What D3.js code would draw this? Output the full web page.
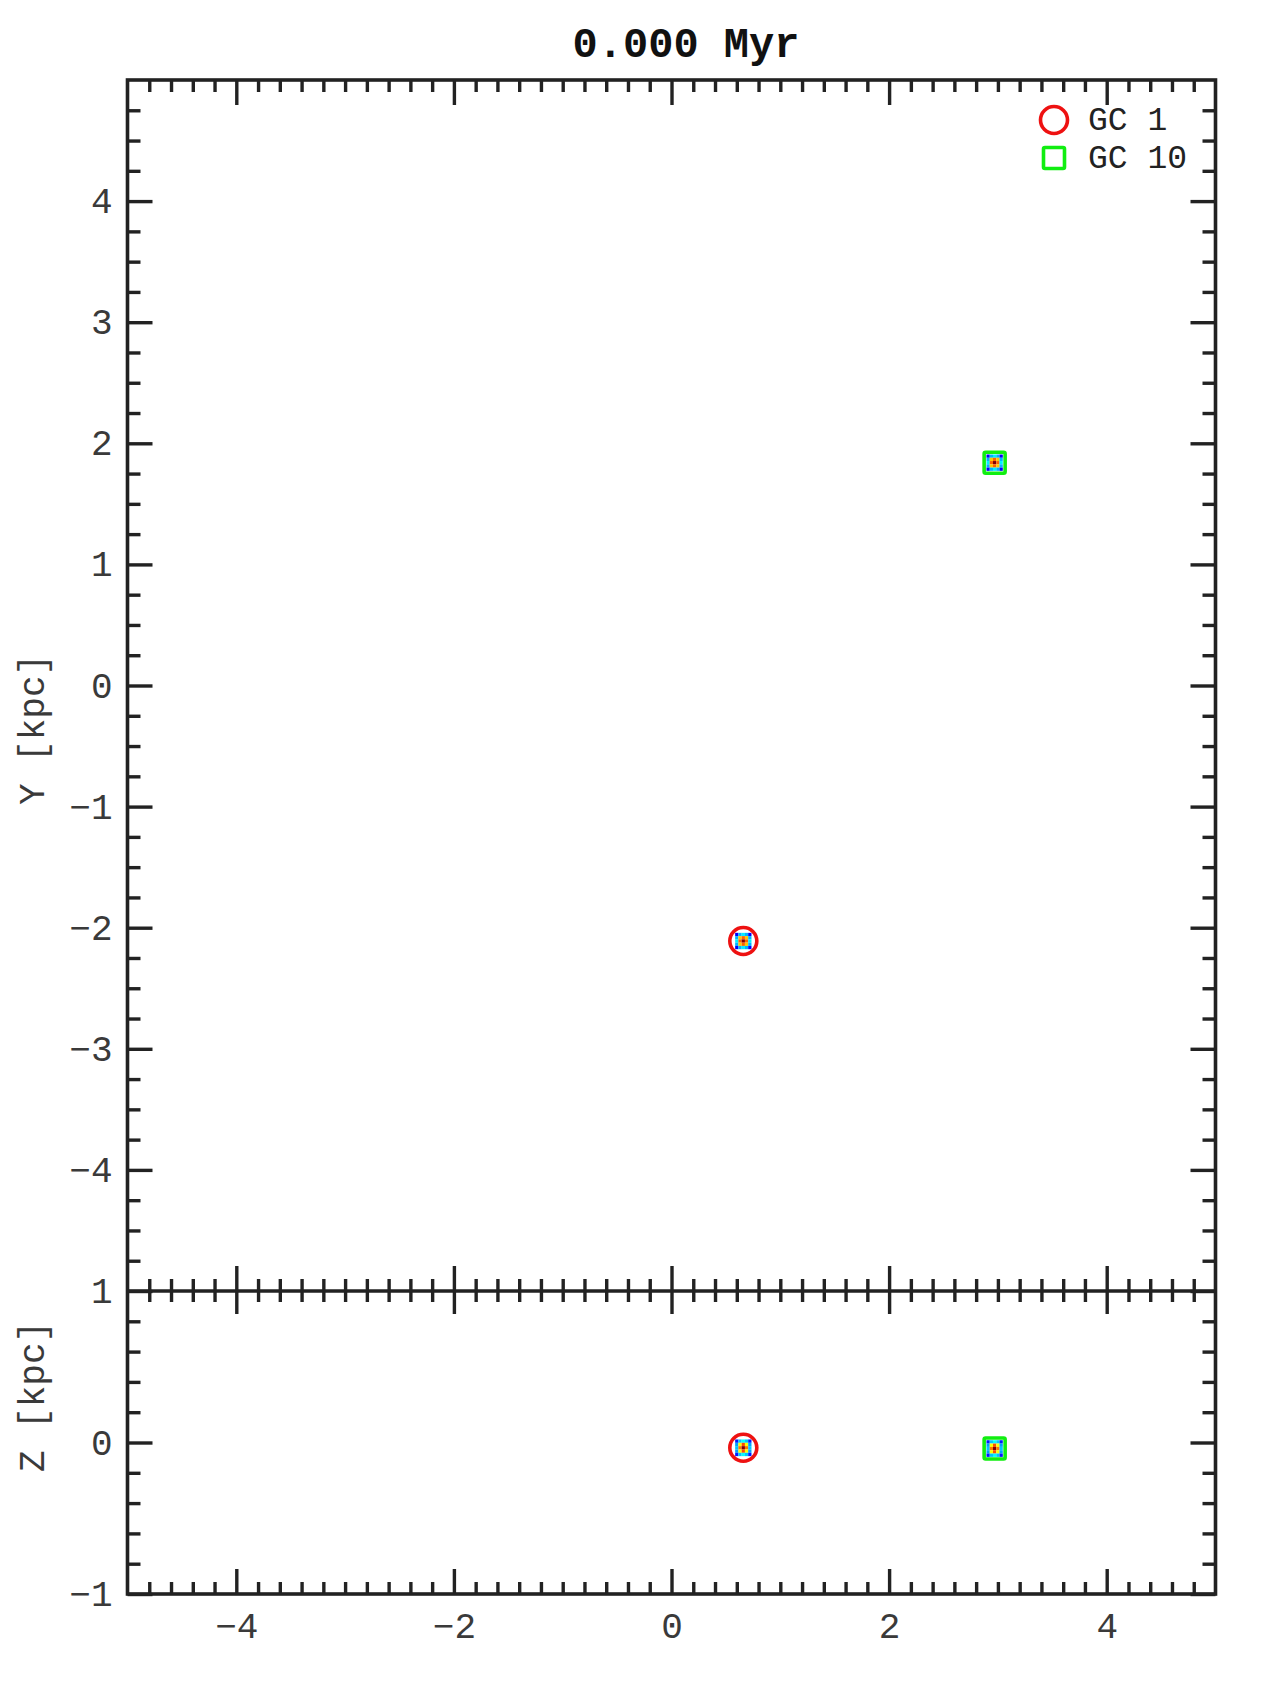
<!DOCTYPE html>
<html><head><meta charset="utf-8">
<script src="https://cdn.jsdelivr.net/npm/d3@7"></script>
<style>body{margin:0;background:#fff}</style>
</head><body>
<script>
// ---- data ----
const title = "0.000 Myr";
const clusterNames = ["GC 1", "GC 10"];
const clusterX = [0.66, 2.97];
const clusterY = [-2.11, 1.84];
const clusterZ = [-0.035, -0.04];
const xTicks = [-4, -2, 0, 2, 4];
const yTicks = [-4, -3, -2, -1, 0, 1, 2, 3, 4];
const zTicks = [-1, 0, 1];
// relative stellar surface density of each cluster on a 5x5 grid (top: x-y, bottom: x-z)
const densityXY = [
  [0.12, 0.30, 0.36, 0.30, 0.12],
  [0.30, 0.68, 0.78, 0.68, 0.30],
  [0.36, 0.78, 1.00, 0.78, 0.36],
  [0.30, 0.68, 0.78, 0.68, 0.30],
  [0.12, 0.30, 0.36, 0.30, 0.12]
];
const densityXZ = [
  [0.15, 0.32, 0.38, 0.32, 0.15],
  [0.28, 0.62, 0.80, 0.62, 0.28],
  [0.32, 0.76, 1.00, 0.76, 0.32],
  [0.28, 0.62, 0.80, 0.62, 0.28],
  [0.15, 0.32, 0.38, 0.32, 0.15]
];
const cellX = 0.03, cellY = 0.027, cellZ = 0.022;

// ---- layout ----
const W = 1280, H = 1706;
const L = 127.5, R = 1215.5, T = 80, M = 1291, B = 1594;
const ink = "#222";
const font = "'Liberation Mono','Courier New',monospace";
const markerColor = ["#ee1111", "#11ee11"];
const markerShape = ["circle", "square"];

const svg = d3.select("body").append("svg").attr("width", W).attr("height", H)
  .style("background", "#fff");

const x = d3.scaleLinear([-5, 5], [L, R]);
const y = d3.scaleLinear([-5, 5], [M, T]);
const z = d3.scaleLinear([-1, 1], [B, M]);

const jet = d3.scaleLinear()
  .domain([0, 0.125, 0.375, 0.625, 0.875, 1])
  .range(["#00008f", "#0000ff", "#00ffff", "#ffff00", "#ff0000", "#800000"])
  .clamp(true);

// density maps
function drawDensity(g, cx, cy, grid, sx, sy, dx, dy) {
  const n = grid.length, h = (n - 1) / 2;
  grid.forEach((row, j) => row.forEach((v, i) => {
    const x0 = sx(cx + (i - h - 0.5) * dx), x1 = sx(cx + (i - h + 0.5) * dx);
    const y0 = sy(cy + (h - j + 0.5) * dy), y1 = sy(cy + (h - j - 0.5) * dy);
    g.append("rect").attr("x", x0).attr("y", y0)
      .attr("width", x1 - x0).attr("height", y1 - y0)
      .attr("fill", jet(v));
  }));
}
function drawMarker(g, px, py, k) {
  if (markerShape[k] === "circle") {
    g.append("circle").attr("cx", px).attr("cy", py).attr("r", 13.5)
      .attr("fill", "none").attr("stroke", markerColor[k]).attr("stroke-width", 3.6);
  } else {
    g.append("rect").attr("x", px - 10.5).attr("y", py - 10.5).attr("width", 21).attr("height", 21)
      .attr("rx", 1.5).attr("fill", "none").attr("stroke", markerColor[k]).attr("stroke-width", 3.6);
  }
}
const gData = svg.append("g");
clusterNames.forEach((nm, k) => {
  drawDensity(gData, clusterX[k], clusterY[k], densityXY, x, y, cellX, cellY);
  drawMarker(gData, x(clusterX[k]), y(clusterY[k]), k);
  drawDensity(gData, clusterX[k], clusterZ[k], densityXZ, x, z, cellX, cellZ);
  drawMarker(gData, x(clusterX[k]), z(clusterZ[k]), k);
});

// ---- axes ----
const fmt = d3.format("d");
function tickAxis(axisFn, scale, vals, size, tx, ty, labels, pad) {
  const a = axisFn(scale).tickValues(vals).tickSize(size)
    .tickPadding(pad || 0).tickFormat(labels ? fmt : "");
  const g = svg.append("g").attr("transform", `translate(${tx},${ty})`).call(a);
  g.select(".domain").remove();
  g.selectAll(".tick line").attr("stroke", ink).attr("stroke-width", 3.4);
  g.selectAll(".tick text").attr("font-family", font).attr("font-size", 36)
    .attr("fill", "#3a3a3a");
  return g;
}
const xMinor = d3.range(-4.8, 5, 0.2).map(v => +v.toFixed(1)).filter(v => !xTicks.includes(v));
const yMinor = d3.range(-4.75, 5, 0.25).map(v => +v.toFixed(2)).filter(v => !Number.isInteger(v));
const zMinor = d3.range(-0.8, 1, 0.2).map(v => +v.toFixed(1)).filter(v => !Number.isInteger(v));
// top panel: left / right
tickAxis(d3.axisLeft, y, yTicks, -25, L, 0, true, 15);
tickAxis(d3.axisLeft, y, yMinor, -13, L, 0, false);
tickAxis(d3.axisRight, y, yTicks, -25, R, 0, false);
tickAxis(d3.axisRight, y, yMinor, -13, R, 0, false);
// bottom panel: left / right
tickAxis(d3.axisLeft, z, zTicks, -25, L, 0, true, 15);
tickAxis(d3.axisLeft, z, zMinor, -13, L, 0, false);
tickAxis(d3.axisRight, z, zTicks, -25, R, 0, false);
tickAxis(d3.axisRight, z, zMinor, -13, R, 0, false);
// top edge (ticks pointing down, inward)
tickAxis(d3.axisBottom, x, xTicks, 25, 0, T, false);
tickAxis(d3.axisBottom, x, xMinor, 12, 0, T, false);
// middle line: both panels
tickAxis(d3.axisTop, x, xTicks, 25, 0, M, false);
tickAxis(d3.axisTop, x, xMinor, 12, 0, M, false);
tickAxis(d3.axisBottom, x, xTicks, 23, 0, M, false);
tickAxis(d3.axisBottom, x, xMinor, 11, 0, M, false);
// bottom edge (ticks pointing up, inward) with labels below
tickAxis(d3.axisTop, x, xTicks, 25, 0, B, false);
tickAxis(d3.axisTop, x, xMinor, 12, 0, B, false);
tickAxis(d3.axisBottom, x, xTicks, 0, 0, B, true, 18);

// frame
svg.append("rect").attr("x", L).attr("y", T).attr("width", R - L).attr("height", B - T)
  .attr("fill", "none").attr("stroke", ink).attr("stroke-width", 3.6);
svg.append("line").attr("x1", L).attr("x2", R).attr("y1", M).attr("y2", M)
  .attr("stroke", ink).attr("stroke-width", 3.6);

// titles
svg.append("text").attr("x", 686).attr("y", 57).attr("text-anchor", "middle")
  .attr("font-family", font).attr("font-weight", "bold").attr("font-size", 42)
  .attr("fill", "#111").text(title);
svg.append("text").attr("transform", `translate(44,${(T + M) / 2 + 44}) rotate(-90)`)
  .attr("text-anchor", "middle").attr("font-family", font).attr("font-size", 36)
  .attr("fill", "#3a3a3a").text("Y [kpc]");
svg.append("text").attr("transform", `translate(44,${(M + B) / 2 - 46}) rotate(-90)`)
  .attr("text-anchor", "middle").attr("font-family", font).attr("font-size", 36)
  .attr("fill", "#3a3a3a").text("Z [kpc]");

// legend
const leg = svg.append("g");
clusterNames.forEach((nm, k) => {
  const ly = 120 + k * 38;
  drawMarker(leg, 1054, ly, k);
  leg.append("text").attr("x", 1088).attr("y", ly + 10).attr("font-family", font)
    .attr("font-size", 33).attr("fill", "#222").text(nm);
});
</script>
</body></html>
